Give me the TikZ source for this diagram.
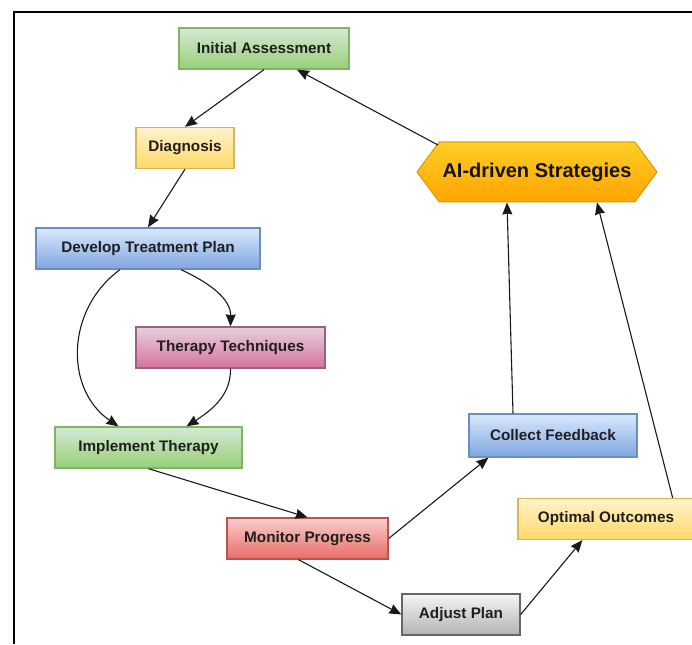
\documentclass[tikz,border=0pt]{standalone}
\usepackage{fontspec}
\setmainfont{Liberation Sans}
\usetikzlibrary{shapes.symbols,arrows.meta,calc}
\definecolor{gA}{HTML}{D5E8D4}\definecolor{gB}{HTML}{97D077}\definecolor{gS}{HTML}{82B366}
\definecolor{yA}{HTML}{FFF2CC}\definecolor{yB}{HTML}{FFD966}\definecolor{yS}{HTML}{D6B656}
\definecolor{bA}{HTML}{DAE8FC}\definecolor{bB}{HTML}{7EA6E0}\definecolor{bS}{HTML}{6C8EBF}
\definecolor{pA}{HTML}{E6D0DE}\definecolor{pB}{HTML}{D5739D}\definecolor{pS}{HTML}{996185}
\definecolor{rA}{HTML}{F8CECC}\definecolor{rB}{HTML}{EA6B66}\definecolor{rS}{HTML}{B85450}
\definecolor{kA}{HTML}{F5F5F5}\definecolor{kB}{HTML}{B3B3B3}\definecolor{kS}{HTML}{666666}
\definecolor{oA}{HTML}{FFCD28}\definecolor{oB}{HTML}{FFA500}\definecolor{oS}{HTML}{D79B00}
\tikzset{
  box/.style={draw, line width=1.3pt, minimum height=41pt, inner sep=0pt,
    font=\bfseries\fontsize{15.3}{18}\selectfont, text=black!88},
  greenbox/.style={box, draw=gS, top color=gA, bottom color=gB},
  yellowbox/.style={box, draw=yS, top color=yA, bottom color=yB},
  bluebox/.style={box, draw=bS, top color=bA, bottom color=bB},
  pinkbox/.style={box, draw=pS, top color=pA, bottom color=pB},
  redbox/.style={box, draw=rS, top color=rA, bottom color=rB},
  graybox/.style={box, draw=kS, top color=kA, bottom color=kB},
  hexbox/.style={shape=signal, signal to=west and east, signal pointer angle=107,
    draw=oS, line width=1pt, top color=oA, bottom color=oB, inner sep=0pt,
    minimum width=240pt, minimum height=60pt,
    font=\bfseries\fontsize{20}{24}\selectfont, text=black!92},
  conn/.style={draw=black!90, line width=1.1pt, -{Stealth[length=12pt,width=10pt,inset=1pt]}},
  frameline/.style={draw=black, line width=1.4pt}
}
\begin{document}
\begin{tikzpicture}[x=1pt,y=-1pt]
\useasboundingbox (0,0) rectangle (692,644);
\coordinate (fr) at (14,12);
\coordinate (frR) at (692,12);
\coordinate (frB) at (14,644);
\draw[frameline] (frR) -- (fr) -- (frB);

\node[greenbox, minimum width=170pt] (ia) at (264,48.5) {Initial Assessment};
\node[yellowbox, minimum width=98pt] (dg) at (185,148) {Diagnosis};
\node[bluebox, minimum width=224pt] (dtp) at (148,248.5) {Develop Treatment Plan};
\node[pinkbox, minimum width=189pt] (tt) at (230.5,347.5) {Therapy Techniques};
\node[greenbox, minimum width=187pt] (impl) at (148.5,447.5) {Implement Therapy};
\node[redbox, minimum width=161pt] (mp) at (307.5,538.5) {Monitor Progress};
\node[graybox, minimum width=118pt] (ap) at (461,614.5) {Adjust Plan};
\node[yellowbox, minimum width=176pt] (oo) at (606,519) {Optimal Outcomes};
\node[bluebox, minimum width=168pt, minimum height=43pt] (cf) at (553,435.5) {Collect Feedback};
\node[hexbox] (ai) at (537,172) {AI-driven Strategies};

\draw[conn] (ia.south) -- (dg.north);
\draw[conn] (dg.south) -- (dtp.north);
\draw[conn] ($(dtp.south)+(-28,0)$) .. controls (65,310) and (65,390) .. ($(impl.north)+(-30,0)$);
\draw[conn] ($(dtp.south)+(33,0)$) .. controls (212,284) and (231,300) .. (tt.north);
\draw[conn] (tt.south) .. controls (231,395) and (212,410) .. ($(impl.north)+(38,0)$);
\draw[conn] (impl.south) -- (mp.north);
\draw[conn] (mp.east) -- ($(cf.south west)+(20,0)$);
\draw[conn] ($(mp.south)+(-9,0)$) -- (ap.west);
\draw[conn] (ap.east) -- ($(oo.south west)+(65,0)$);
\draw[conn] ($(cf.north)+(-40,0)$) -- ($(ai.south)+(-30,0)$);
\draw[conn] ($(oo.north east)+(-22,0)$) -- ($(ai.south)+(60,0)$);
\draw[conn] ($(ai.center)+(-99,-27)$) -- ($(ia.south)+(33,0)$);
\end{tikzpicture}
\end{document}
